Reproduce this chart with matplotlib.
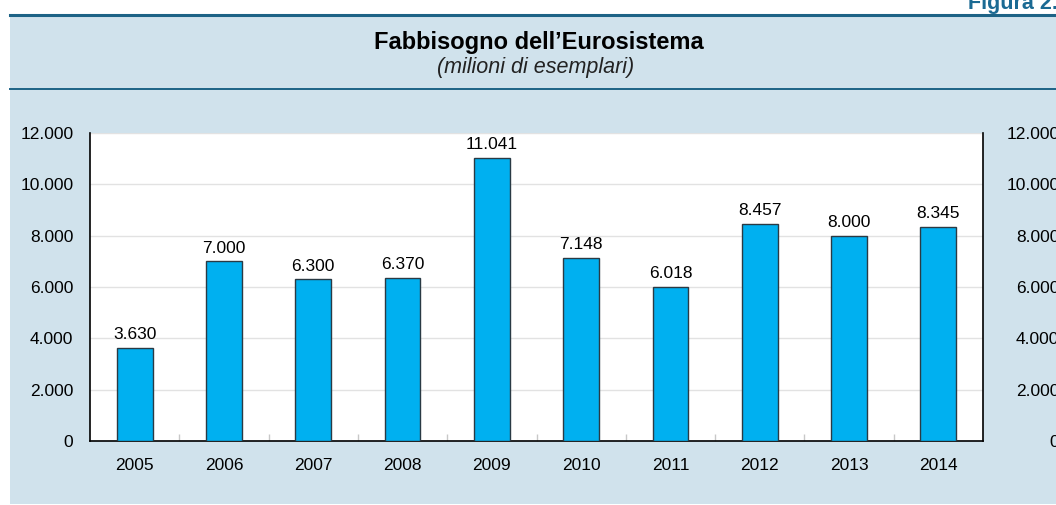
import numpy as np
import matplotlib
matplotlib.use('Agg')
import matplotlib.pyplot as plt
from matplotlib.patches import Rectangle
from matplotlib.lines import Line2D

plt.rcParams['font.family'] = ['Liberation Sans', 'DejaVu Sans']

# dati
anni = ['2005', '2006', '2007', '2008', '2009', '2010', '2011', '2012', '2013', '2014']
valori = [3630, 7000, 6300, 6370, 11041, 7148, 6018, 8457, 8000, 8345]
yticks = [0, 2000, 4000, 6000, 8000, 10000, 12000]

W, H = 1056, 505
fig = plt.figure(figsize=(W / 100, H / 100), dpi=100)
fig.patch.set_facecolor('white')

# pannello azzurro e linee
fig.patches.append(Rectangle((10 / W, 1 / H), 1 - 10 / W, 1 - 16 / H,
                             transform=fig.transFigure, facecolor='#d0e2ec',
                             edgecolor='none', zorder=-10))
fig.lines.append(Line2D([10 / W, 1], [1 - 15 / H, 1 - 15 / H], transform=fig.transFigure,
                        color='#1d6386', lw=2.2, zorder=-5))
fig.lines.append(Line2D([10 / W, 1], [1 - 89 / H, 1 - 89 / H], transform=fig.transFigure,
                        color='#1d6386', lw=1.4, zorder=-5))

fig.text(1058 / W, 1 - 9 / H, 'Figura 2.', ha='right', va='baseline',
         fontsize=15.5, fontweight='bold', color='#1b6a93')
fig.text(539 / W, 1 - 43 / H, 'Fabbisogno dell\u2019Eurosistema', ha='center', va='center',
         fontsize=17, fontweight='bold', color='black')
fig.text(536 / W, 1 - 67 / H, '(milioni di esemplari)', ha='center', va='center',
         fontsize=15.5, style='italic', color='#222222')

ax = fig.add_axes([90 / W, 1 - 441 / H, (983 - 90) / W, (441 - 133) / H])
ax.set_facecolor('white')
x = np.arange(len(anni))
bars = ax.bar(x, valori, width=0.4, color='#00b0f0', edgecolor='#2a3a44', linewidth=1, zorder=3)

def fmt(v):
    return f'{v:,}'.replace(',', '.')

for b, v in zip(bars, valori):
    ax.annotate(fmt(v), (b.get_x() + b.get_width() / 2, v), xytext=(0, 4),
                textcoords='offset points', ha='center', va='bottom', fontsize=12.5)

ax.set_xlim(-0.5, len(anni) - 0.5)
ax.set_ylim(0, 12000)
ax.set_yticks(yticks)
ax.set_yticklabels([fmt(v) for v in yticks], fontsize=12.5)
ax.set_xticks(x)
ax.set_xticklabels(anni, fontsize=12.5)
ax.set_xticks(x[:-1] + 0.5, minor=True)
ax.tick_params(axis='x', which='major', length=0, pad=12)
ax.tick_params(axis='x', which='minor', length=5, direction='in', color='#c8c8c8', width=1)
ax.tick_params(axis='y', length=0, pad=12)
ax.yaxis.grid(True, color='#e2e2e2', lw=1, zorder=0)
ax.set_axisbelow(True)
for s in ['left', 'bottom', 'right']:
    ax.spines[s].set_color('black')
    ax.spines[s].set_linewidth(1.2)
ax.spines['top'].set_visible(False)

ax2 = ax.twinx()
ax2.set_ylim(0, 12000)
ax2.set_yticks(yticks)
ax2.set_yticklabels([fmt(v) for v in yticks], fontsize=12.5, ha='right')
ax2.tick_params(axis='y', length=0, pad=55)
for s in ax2.spines.values():
    s.set_visible(False)

fig.savefig('out.png', dpi=100)
